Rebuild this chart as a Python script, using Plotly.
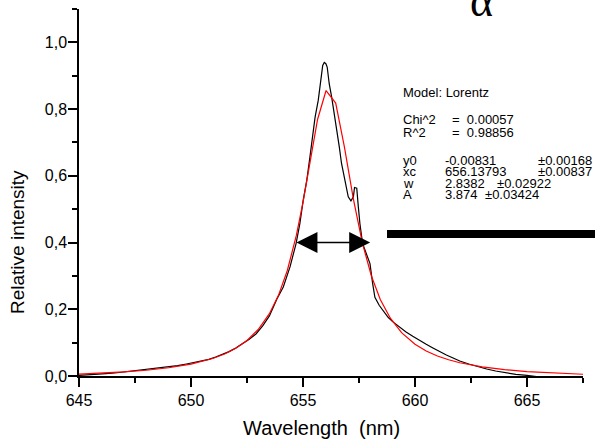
import plotly.graph_objects as go

# ---------------- data ----------------
black_x = [645.0, 645.4, 645.8, 646.2, 646.6, 647.0, 647.4, 647.8, 648.2, 648.6,
           649.0, 649.4, 649.8, 650.2, 650.5, 650.8, 651.1, 651.4, 651.7, 652.0,
           652.3, 652.6, 652.9, 653.2, 653.5, 653.83, 654.12, 654.42, 654.69, 654.86,
           655.01, 655.17, 655.31, 655.43, 655.54, 655.68, 655.76, 655.83, 655.88, 655.95,
           656.02, 656.08, 656.17, 656.28, 656.38, 656.50, 656.62, 656.72, 656.83, 656.92,
           657.02, 657.14, 657.25, 657.30, 657.40, 657.47, 657.54, 657.66, 657.82, 657.99,
           658.11, 658.21, 658.4, 658.6, 658.8, 659.0, 659.3, 659.6, 659.9, 660.2,
           660.5, 660.8, 661.1, 661.4, 661.7, 662.0, 662.4, 662.8, 663.2, 663.6,
           664.0, 664.5, 665.0, 665.5, 666.0, 666.5, 667.0, 667.45, 667.5]
black_y = [0.002, 0.003, 0.005, 0.007, 0.009, 0.012, 0.014, 0.017, 0.020, 0.024,
           0.027, 0.031, 0.036, 0.041, 0.045, 0.050, 0.057, 0.065, 0.073, 0.084,
           0.096, 0.110, 0.126, 0.150, 0.180, 0.230, 0.267, 0.327, 0.397, 0.457,
           0.527, 0.587, 0.657, 0.717, 0.776, 0.826, 0.866, 0.901, 0.931, 0.940,
           0.936, 0.926, 0.876, 0.836, 0.796, 0.746, 0.687, 0.637, 0.597, 0.567,
           0.537, 0.525, 0.537, 0.565, 0.563, 0.507, 0.457, 0.397, 0.368, 0.337,
           0.277, 0.236, 0.212, 0.192, 0.176, 0.163, 0.147, 0.132, 0.119, 0.106,
           0.095, 0.084, 0.073, 0.063, 0.054, 0.045, 0.036, 0.028, 0.021, 0.015,
           0.010, 0.005, 0.002, -0.003, -0.007, -0.010, -0.012, -0.014, -0.020]

fit_x = [645, 646, 647, 648, 649, 650, 650.5, 651, 651.5, 652, 652.5, 653, 653.5,
         653.9, 654.3, 654.7, 655.0, 655.3, 655.65, 656.03, 656.46, 656.85, 657.25,
         657.65, 658.05, 658.45, 658.9, 659.4, 660, 660.5, 661, 661.5, 662, 663,
         664, 665, 666, 667, 667.5]
fit_y = [0.0056, 0.0084, 0.0122, 0.0173, 0.0247, 0.0358, 0.0435, 0.0533, 0.0661,
         0.0831, 0.1065, 0.1393, 0.1867, 0.2409, 0.3163, 0.4204, 0.5205, 0.6360,
         0.7688, 0.8557, 0.8182, 0.6860, 0.5302, 0.3987, 0.3004, 0.2295, 0.1732,
         0.1300, 0.0951, 0.0749, 0.0599, 0.0486, 0.0398, 0.0273, 0.0191, 0.0134,
         0.0093, 0.0063, 0.0053]

fwhm_x = [654.64, 658.0]
fwhm_y = 0.4

x_ticks = [645, 650, 655, 660, 665]
y_ticks = [0.0, 0.2, 0.4, 0.6, 0.8, 1.0]

model_text = "Model: Lorentz"
stat_labels = ["Chi^2", "R^2"]
stat_values = ["=  0.00057", "=  0.98856"]
par_labels = ["y0", "xc", "w", "A"]
par_values = ["-0.00831", "656.13793", "2.8382", "3.874"]
par_errors = ["\u00b10.00168", "\u00b10.00837", "\u00b10.02922", "\u00b10.03424"]

# ---------------- layout constants ----------------
W, H = 595, 442
ML, MR, MT, MB = 79, 12, 9, 66
PW, PH = W - ML - MR, H - MT - MB
FONT = "Liberation Sans, Arial, sans-serif"


def px(xpix):
    return (xpix - ML) / PW


def py(ypix):
    return (H - MB - ypix) / PH


fig = go.Figure()
fig.add_trace(go.Scatter(x=black_x, y=black_y, mode="lines",
                         line=dict(color="black", width=1.2), showlegend=False,
                         hoverinfo="skip"))
fig.add_trace(go.Scatter(x=fit_x, y=fit_y, mode="lines",
                         line=dict(color="#ff0000", width=1.2), showlegend=False,
                         hoverinfo="skip"))

ann = []
txt_font = dict(family=FONT, size=13, color="black")


def add_text(text, xp, yp):
    ann.append(dict(text=text, x=px(xp), y=py(yp), xref="paper", yref="paper",
                    xanchor="left", yanchor="middle", showarrow=False, font=txt_font))


add_text(model_text, 401, 92)
for i, (lab, val) in enumerate(zip(stat_labels, stat_values)):
    yy = [119.7, 132][i]
    add_text(lab, 401, yy)
    add_text(val, 450, yy)
rows = [160.3, 171.7, 183.3, 195]
err_x = [536, 536, 495, 483]
for i, (lab, val, err) in enumerate(zip(par_labels, par_values, par_errors)):
    add_text(lab, 401, rows[i])
    add_text(val, 443, rows[i])
    add_text(err, err_x[i], rows[i])

# FWHM double arrow
ann.append(dict(x=fwhm_x[1], y=fwhm_y, ax=fwhm_x[0], ay=fwhm_y, xref="x", yref="y",
                axref="x", ayref="y", text="", showarrow=True, arrowside="end+start",
                arrowhead=2, startarrowhead=2, arrowsize=2.8, startarrowsize=2.8,
                arrowwidth=1.5, arrowcolor="black", standoff=0, startstandoff=0))

# axis titles
ann.append(dict(text="Wavelength  (nm)", x=px(321.5), y=py(428), xref="paper", yref="paper",
                xanchor="center", yanchor="middle", showarrow=False,
                font=dict(family=FONT, size=20, color="black")))
ann.append(dict(text="Relative intensity", x=px(18), y=py(242), xref="paper", yref="paper",
                xanchor="center", yanchor="middle", showarrow=False, textangle=-90,
                font=dict(family=FONT, size=19, color="black")))
# partially cut-off alpha at top
ann.append(dict(text="\u03b1", x=px(481), y=py(28), xref="paper", yref="paper",
                xanchor="center", yanchor="bottom", showarrow=False,
                font=dict(family="Liberation Serif, Times New Roman, serif", size=44, color="black")))

shapes = [dict(type="rect", xref="paper", yref="paper", x0=px(387), x1=px(600),
               y0=py(238), y1=py(230), fillcolor="black", line=dict(width=0))]

axis_common = dict(ticks="outside", ticklen=9, tickwidth=1.5, tickcolor="black",
                   showline=True, linecolor="black", linewidth=1.5, showgrid=False,
                   zeroline=False, tickfont=dict(family=FONT, size=16, color="black"))

fig.update_layout(
    width=W, height=H, margin=dict(l=ML, r=MR, t=MT, b=MB),
    paper_bgcolor="white", plot_bgcolor="white",
    separators=", ",
    hovermode=False,
    annotations=ann, shapes=shapes,
    font=dict(family=FONT, size=16, color="black"),
    xaxis=dict(range=[645, 667.5], tickmode="array", tickvals=x_ticks,
               minor=dict(dtick=2.5, tick0=645, ticks="outside", ticklen=5,
                          tickwidth=1.5, tickcolor="black", showgrid=False),
               **axis_common),
    yaxis=dict(range=[0, 1.1], tickmode="array", tickvals=y_ticks, tickformat=".1f",
               ticklabelstandoff=-2,
               minor=dict(dtick=0.1, tick0=0, ticks="outside", ticklen=5,
                          tickwidth=1.5, tickcolor="black", showgrid=False),
               **axis_common),
)

fig.write_html("out.html", config={"displayModeBar": False},
               post_script="document.body.style.margin='0';document.body.style.overflow='hidden';")
